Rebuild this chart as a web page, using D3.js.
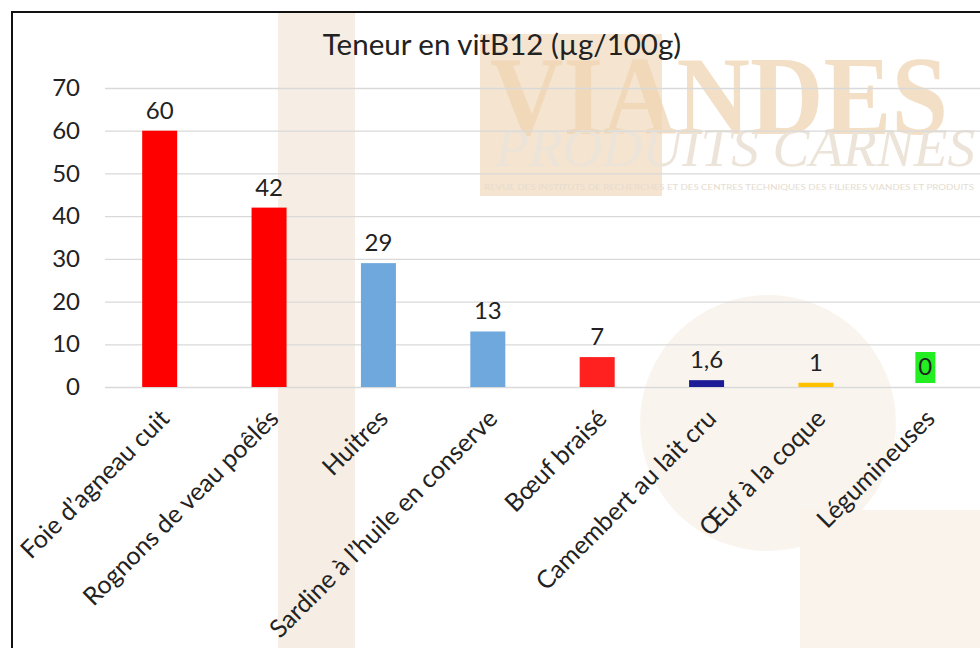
<!DOCTYPE html>
<html>
<head>
<meta charset="utf-8">
<script src="https://cdn.jsdelivr.net/npm/d3@7"></script>
<style>
body{margin:0;background:#fff;}
svg{display:block;font-family:Lato,"Open Sans",sans-serif;}
</style>
</head>
<body>
<svg width="980" height="648"></svg>
<script>
//données
var categories=["Foie d\u2019agneau cuit","Rognons de veau po\u00eal\u00e9s","Huitres","Sardine \u00e0 l\u2019huile en conserve","B\u0153uf brais\u00e9","Camembert au lait cru","\u0152uf \u00e0 la coque","L\u00e9gumineuses"];
var values=[60,42,29,13,7,1.6,1,0];
var valueLabels=["60","42","29","13","7","1,6","1","0"];
var yTicks=[0,10,20,30,40,50,60,70];
var title="Teneur en vitB12 (\u00b5g/100g)";
//couleurs
var barColors=["#ff0000","#ff0000","#6fa8dc","#6fa8dc","#ff2020","#1c1c96","#ffc000","#22ee22"];
var labelFills=[null,null,null,null,null,null,null,"#22ee22"];

var svg=d3.select("svg"),
    W=+svg.attr("width"),
    H=+svg.attr("height"),
    margin={top:88,left:105,bottom:387};

//fond (filigrane)
var bg=svg.append("g");
bg.append("rect").attr("x",278).attr("y",12).attr("width",77).attr("height",H-12).attr("fill","#f6eee4");
bg.append("circle").attr("cx",768).attr("cy",423).attr("r",128).attr("fill","#faf4ee");
bg.append("rect").attr("x",800).attr("y",510).attr("width",W-800).attr("height",H-510).attr("fill","#faf3ec");
bg.append("rect").attr("x",480).attr("y",34).attr("width",182).attr("height",162).attr("fill","#f5e4cf");
bg.append("text").attr("x",490).attr("y",134)
  .attr("font-family","'Liberation Serif',serif").attr("font-weight","bold")
  .attr("font-size",112).attr("textLength",458).attr("lengthAdjust","spacingAndGlyphs")
  .attr("fill","#efd4b2").attr("fill-opacity",0.75).text("VIANDES");
bg.append("text").attr("x",495).attr("y",166)
  .attr("font-family","'Liberation Serif',serif").attr("font-style","italic")
  .attr("font-size",54).attr("textLength",480).attr("lengthAdjust","spacingAndGlyphs")
  .attr("fill","#ece4d8").text("PRODUITS CARNES");
bg.append("text").attr("x",484).attr("y",190)
  .attr("font-size",8).attr("textLength",490).attr("lengthAdjust","spacingAndGlyphs")
  .attr("fill","#e6dccf").text("REVUE DES INSTITUTS DE RECHERCHES ET DES CENTRES TECHNIQUES DES FILIERES VIANDES ET PRODUITS");

//échelles
var x=d3.scaleBand()
    .domain(categories)
    .range([margin.left,W])
    .paddingInner(0.68)
    .paddingOuter(0.34);
var y=d3.scaleLinear()
    .domain([0,70])
    .range([margin.bottom,margin.top]);

//grille + axe y
var gy=svg.append("g")
    .attr("transform","translate("+margin.left+",0)")
    .call(d3.axisLeft(y).tickValues(yTicks).tickSize(-(W-margin.left)).tickPadding(25));
gy.select(".domain").remove();
gy.selectAll(".tick line").attr("stroke","#d9d9d9").attr("stroke-width",1.3);
gy.selectAll(".tick text").attr("fill","#222").attr("font-size",24).attr("font-family","Lato,'Open Sans',sans-serif");

//barres
svg.append("g").selectAll("rect")
  .data(values)
  .enter().append("rect")
    .attr("x",function(d,i){return x(categories[i]);})
    .attr("y",function(d){return y(d);})
    .attr("width",x.bandwidth())
    .attr("height",function(d){return y(0)-y(d);})
    .attr("fill",function(d,i){return barColors[i];});

//étiquettes de valeur
var lab=svg.append("g").selectAll("g")
  .data(values)
  .enter().append("g");
lab.append("text")
    .attr("x",function(d,i){return x(categories[i])+x.bandwidth()/2;})
    .attr("y",function(d){return y(d)-12;})
    .attr("text-anchor","middle")
    .attr("font-size",24)
    .attr("fill","#222")
    .text(function(d,i){return valueLabels[i];});
lab.each(function(d,i){
  if(!labelFills[i]) return;
  var t=d3.select(this).select("text"), b=t.node().getBBox();
  d3.select(this).insert("rect","text")
    .attr("x",b.x-3).attr("y",b.y+1).attr("width",b.width+6).attr("height",b.height+2)
    .attr("fill",labelFills[i]);
});

//axe x
var gx=svg.append("g")
    .attr("transform","translate(0,"+y(0)+")")
    .call(d3.axisBottom(x).tickSize(0));
gx.select(".domain").remove();
gx.selectAll(".tick text")
    .attr("x",0).attr("y",0).attr("dy","0.35em")
    .attr("text-anchor","end")
    .attr("transform","translate(5,27) rotate(-45)")
    .attr("fill","#222")
    .attr("font-size",25)
    .attr("font-family","Lato,'Open Sans',sans-serif");

//titre
svg.append("text")
    .attr("x",502).attr("y",55)
    .attr("text-anchor","middle")
    .attr("font-size",29.5)
    .attr("fill","#222")
    .text(title);

//cadre
svg.append("path")
    .attr("d","M12,"+H+"V12H"+W)
    .attr("fill","none")
    .attr("stroke","#111")
    .attr("stroke-width",2);
</script>
</body>
</html>
